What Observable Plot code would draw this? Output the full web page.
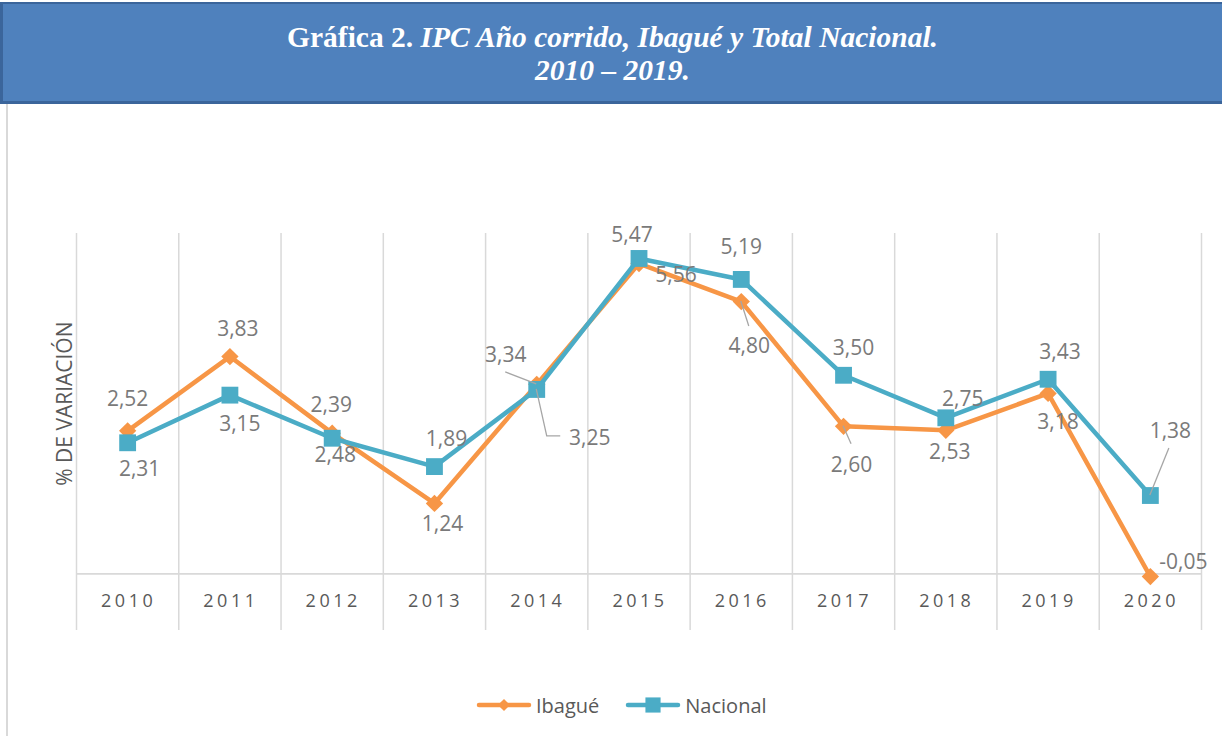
<!DOCTYPE html>
<html><head><meta charset="utf-8">
<script src="https://cdn.jsdelivr.net/npm/d3@7"></script>
<script src="https://cdn.jsdelivr.net/npm/@observablehq/plot@0.6"></script>
<style>
body{margin:0;width:1222px;height:736px;overflow:hidden;background:#fff;position:relative;font-family:"Open Sans",sans-serif;}
#banner{position:absolute;left:0;top:2px;width:1222px;height:102px;box-sizing:border-box;background:#4F81BD;border-top:2px solid #3B659B;border-bottom:3px solid #3B659B;border-left:3px solid #3B659B;color:#fff;text-align:center;font-family:"Liberation Serif","Times New Roman",serif;font-size:29.5px;font-weight:bold;line-height:33px;padding-top:17px;}
#leftline{position:absolute;left:6px;top:104px;width:2px;height:632px;background:#d9d9d9;}
#chart{position:absolute;left:0;top:105px;}
#legend{position:absolute;left:476px;top:690px;height:30px;display:flex;align-items:center;font-size:20px;color:#595959;}
#legend .item{display:flex;align-items:center;margin-right:26px;}
#legend svg{margin-right:4px;}
svg g[aria-label="x-axis tick label"] text{letter-spacing:3.5px;}
</style></head>
<body>
<div id="banner">Gráfica 2. <i>IPC Año corrido, Ibagué y Total Nacional.</i><br><i>2010 – 2019.</i></div>
<div id="leftline"></div>
<div id="chart"></div>
<div id="legend"></div>
<script>
// ---- data ----
const years = [2010, 2011, 2012, 2013, 2014, 2015, 2016, 2017, 2018, 2019, 2020];
const ibague = [2.52, 3.83, 2.48, 1.24, 3.34, 5.47, 4.80, 2.60, 2.53, 3.18, -0.05];
const nacional = [2.31, 3.15, 2.39, 1.89, 3.25, 5.56, 5.19, 3.50, 2.75, 3.43, 1.38];
const seriesNames = ["Ibagué", "Nacional"];
const yAxisTitle = "% DE VARIACIÓN";

// ---- styling (label placement, in pixels relative to each point) ----
const colors = {"Ibagué": "#F79646", "Nacional": "#4BACC6"};
const symbols = {"Ibagué": "diamond2", "Nacional": "square"};
const radii = {"Ibagué": 7.8, "Nacional": 9.5};
const ibagueLabelOffsets = [[0,-32],[8,-27],[3,22],[8,21],[-31,-29],[-7,-28],[8,45],[8,39],[4,22],[10,29],[33,-14]];
const nacionalLabelOffsets = [[12,26],[10,29],[-1,-33],[12,-27],[53,49],[37,17],[0,-32],[10,-27],[17,-19],[12,-27],[20,-64]];
const leaderLines = [
  {series: "Ibagué", year: 2014, path: [[-31,-12],[0,0]]},
  {series: "Ibagué", year: 2016, path: [[0,0],[8,25]]},
  {series: "Ibagué", year: 2017, path: [[0,0],[8,18]]},
  {series: "Nacional", year: 2014, path: [[0,0],[10.5,47],[24,47]]},
  {series: "Nacional", year: 2020, path: [[0,0],[19,-47]]}
];

const seriesValues = {"Ibagué": ibague, "Nacional": nacional};
const seriesOffsets = {"Ibagué": ibagueLabelOffsets, "Nacional": nacionalLabelOffsets};
const rows = seriesNames.flatMap(s => years.map((yr, i) => ({series: s, year: yr, value: seriesValues[s][i], off: seriesOffsets[s][i]})));
const fmt = v => v.toFixed(2).replace(".", ",");
const yDomain = [-1, 6];
const boundaries = years.map(y => y - 0.5).concat([years[years.length - 1] + 0.5]);

function leaderMark(index, scales) {
  const g = d3.create("svg:g").attr("fill", "none").attr("stroke", "#a6a6a6").attr("stroke-width", 1.3);
  for (const l of leaderLines) {
    const i = years.indexOf(l.year);
    const px = scales.x(l.year), py = scales.y(seriesValues[l.series][i]);
    g.append("path").attr("d", d3.line()(l.path.map(([dx, dy]) => [px + dx, py + dy])));
  }
  return g.node();
}

const marks = [
  Plot.ruleX(boundaries, {stroke: "#d9d9d9", strokeWidth: 1.5}),
  Plot.ruleY([0], {stroke: "#d9d9d9", strokeWidth: 1.8}),
  Plot.axisX({ticks: years, tickFormat: d => String(d), tickSize: 0, tickPadding: 0, dy: -36, dx: 1, fontSize: 18, fill: "#595959", label: null})
];
for (const s of seriesNames) {
  const data = rows.filter(r => r.series === s);
  marks.push(Plot.line(data, {x: "year", y: "value", stroke: colors[s], strokeWidth: 4.5, strokeLinejoin: "round", strokeLinecap: "round"}));
  marks.push(Plot.dot(data, {x: "year", y: "value", symbol: symbols[s], r: radii[s], fill: colors[s], stroke: "none"}));
}
marks.push(leaderMark);
for (const r of rows) {
  marks.push(Plot.text([r], {x: "year", y: "value", text: d => fmt(d.value), dx: r.off[0], dy: r.off[1], fontSize: 21, fill: "#7a7a7a"}));
}
marks.push(Plot.text([yAxisTitle], {frameAnchor: "left", y: () => (0 + yDomain[1]) / 2, text: d => d, rotate: -90, textAnchor: "middle", dx: -11, fontSize: 21, fill: "#595959"}));

const chart = Plot.plot({
  width: 1222,
  height: 560,
  marginLeft: 76,
  marginRight: 21,
  marginTop: 128,
  marginBottom: 35,
  style: {fontFamily: "Open Sans", background: "transparent", overflow: "visible"},
  x: {domain: [boundaries[0], boundaries[boundaries.length - 1]]},
  y: {domain: yDomain, axis: null},
  marks
});
document.getElementById("chart").appendChild(chart);

// ---- legend ----
const legend = d3.select("#legend");
for (const s of seriesNames) {
  const item = legend.append("div").attr("class", "item");
  const sw = item.append("svg").attr("width", 56).attr("height", 20);
  sw.append("line").attr("x1", 3).attr("x2", 53).attr("y1", 10).attr("y2", 10).attr("stroke", colors[s]).attr("stroke-width", 4.5).attr("stroke-linecap", "round");
  sw.append("path").attr("transform", "translate(28,10)").attr("d", d3.symbol(s === "Ibagué" ? d3.symbolDiamond2 : d3.symbolSquare, s === "Ibagué" ? 95 : 230)()).attr("fill", colors[s]);
  item.append("span").text(s);
}
</script>
</body></html>
